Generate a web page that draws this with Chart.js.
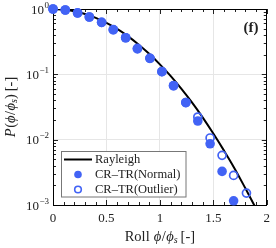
<!DOCTYPE html>
<html><head><meta charset="utf-8">
<script src="https://cdn.jsdelivr.net/npm/chart.js@4"></script>
<style>html,body{margin:0;padding:0;background:#fff;}#wrap{width:276px;height:248px;position:relative;}</style>
</head><body><div id="wrap"><canvas id="c" width="276" height="248"></canvas></div>
<script>
// ---- data ----
const rollBins   = [0, 0.115, 0.23, 0.34, 0.455, 0.564, 0.68, 0.79, 0.907, 1.019, 1.128, 1.243, 1.355, 1.47, 1.582, 1.69, 1.81];
const normalP    = [1, 0.965, 0.87, 0.754, 0.625, 0.482, 0.363, 0.25, 0.176, 0.11, 0.067, 0.037, 0.0193, 0.00865, 0.00327, 0.00116, null];
const outlierP   = [1, 0.965, 0.87, 0.754, 0.625, 0.482, 0.363, 0.245, 0.176, 0.11, 0.067, 0.037, 0.0222, 0.0106, 0.00575, 0.00284, 0.00152];
const rayleighX  = [0, 0.1, 0.2, 0.3, 0.4, 0.5, 0.6, 0.7, 0.8, 0.9, 1.0, 1.1, 1.2, 1.3, 1.4, 1.5, 1.6, 1.7, 1.8, 1.9];
const rayleighP  = [1, 0.981, 0.925, 0.839, 0.732, 0.614, 0.496, 0.385, 0.287, 0.206, 0.142, 0.0945, 0.0603, 0.0371, 0.0219, 0.0124, 0.0068, 0.0036, 0.0018, 0.00088];
const xTicks      = [0, 0.5, 1, 1.5, 2];
const xTickLabels = ['0', '0.5', '1', '1.5', '2'];
const yTicks      = [1e-3, 1e-2, 1e-1, 1];
const yTickBase   = '10';
const yTickExps   = ['\u22123', '\u22122', '\u22121', '0'];
const seriesNames = ['Rayleigh', 'CR\u2013TR(Normal)', 'CR\u2013TR(Outlier)'];
const panelLabel = '(f)';

const SERIF = "'Liberation Serif','DejaVu Serif',serif";
const BLUE = 'rgb(66,99,245)';

function pts(xs, ys){ const o=[]; xs.forEach((x,i)=>{ if(ys[i]!=null) o.push({x:x,y:ys[i]}); }); return o; }

function drawPieces(ctx, pieces, x, y){
  let w = 0;
  pieces.forEach(p=>{ ctx.font=(p.it?'italic ':'')+p.size+'px '+SERIF; p.w=ctx.measureText(p.t).width+(p.sp||0); w+=p.w; });
  let cx = x - w/2;
  ctx.textAlign='left'; ctx.textBaseline='alphabetic';
  pieces.forEach(p=>{ ctx.font=(p.it?'italic ':'')+p.size+'px '+SERIF; ctx.fillText(p.t, cx, y+(p.dy||0)); cx+=p.w; });
}

const decor = {
  id:'decor',
  beforeDatasetsDraw(chart){
    const ctx=chart.ctx, a=chart.chartArea, xs=chart.scales.x, ys=chart.scales.y;
    ctx.save();
    ctx.strokeStyle='#222'; ctx.lineWidth=1;
    ctx.beginPath();
    for(let i=0;i<=20;i++){
      const v=i/10, px=Math.round(xs.getPixelForValue(v))+0.5, L=(i%5===0)?5:3;
      ctx.moveTo(px,a.bottom); ctx.lineTo(px,a.bottom-L);
      ctx.moveTo(px,a.top); ctx.lineTo(px,a.top+L);
    }
    for(let e=-3;e<=0;e++){
      for(let m=1;m<=9;m++){
        const v=m*Math.pow(10,e); if(v>1) break;
        const py=Math.round(ys.getPixelForValue(v))+0.5, L=(m===1)?5:3;
        ctx.moveTo(a.left,py); ctx.lineTo(a.left+L,py);
        ctx.moveTo(a.right,py); ctx.lineTo(a.right-L,py);
      }
    }
    ctx.stroke();
    ctx.strokeStyle='#000'; ctx.lineWidth=1;
    ctx.strokeRect(Math.round(a.left)+0.5, Math.round(a.top)+0.5, Math.round(a.right-a.left)-1, Math.round(a.bottom-a.top));
    // y tick labels: 10 with superscript exponent
    ctx.fillStyle='#222'; ctx.textBaseline='alphabetic'; ctx.textAlign='left';
    yTicks.forEach((v,i)=>{
      const py=ys.getPixelForValue(v);
      ctx.font='9px '+SERIF; const ew=ctx.measureText(yTickExps[i]).width;
      ctx.font='13px '+SERIF; const bw=ctx.measureText(yTickBase).width;
      const right=a.left-4, x0=right-ew-bw-0.5;
      ctx.fillText(yTickBase, x0, py+4.5);
      ctx.font='9px '+SERIF; ctx.fillText(yTickExps[i], x0+bw+0.5, py-1.5);
    });
    ctx.restore();
  },
  afterDraw(chart){
    const ctx=chart.ctx, a=chart.chartArea;
    ctx.save();
    ctx.fillStyle='#222';
    drawPieces(ctx,[
      {t:'Roll',size:14.5,sp:4},{t:'\u03D5',it:true,size:14.5,sp:0.5},{t:'/',size:14.5,sp:0.5},{t:'\u03D5',it:true,size:14.5},{t:'s',it:true,size:10,dy:2,sp:3},{t:'[-]',size:14.5}
    ], (a.left+a.right)/2, 241);
    ctx.save();
    ctx.translate(15, (a.top+a.bottom)/2);
    ctx.rotate(-Math.PI/2);
    drawPieces(ctx,[
      {t:'P',it:true,size:14.5,sp:0.5},{t:'(',size:14.5},{t:'\u03D5',it:true,size:14.5,sp:0.5},{t:'/',size:14.5,sp:0.5},{t:'\u03D5',it:true,size:14.5},{t:'s',it:true,size:10,dy:2},{t:')',size:14.5,sp:3},{t:'[-]',size:14.5}
    ], 0, 0);
    ctx.restore();
    ctx.font='bold 15px '+SERIF; ctx.textAlign='center'; ctx.textBaseline='middle';
    ctx.fillText(panelLabel, 251, 28);
    // legend
    const lx=61.5, ly=151.5, lw=124.5, lh=45.5;
    ctx.fillStyle='#fff'; ctx.fillRect(lx,ly,lw,lh);
    ctx.strokeStyle='#777'; ctx.lineWidth=1; ctx.strokeRect(lx,ly,lw,lh);
    const rows=[159.5,174.5,189.5];
    ctx.strokeStyle='#000'; ctx.lineWidth=2;
    ctx.beginPath(); ctx.moveTo(64,rows[0]); ctx.lineTo(92,rows[0]); ctx.stroke();
    ctx.fillStyle=BLUE; ctx.beginPath(); ctx.arc(78,rows[1],3.8,0,Math.PI*2); ctx.fill();
    ctx.strokeStyle=BLUE; ctx.lineWidth=1.6; ctx.beginPath(); ctx.arc(78,rows[2],3.3,0,Math.PI*2); ctx.stroke();
    ctx.fillStyle='#222'; ctx.font='12.5px '+SERIF; ctx.textAlign='left'; ctx.textBaseline='middle';
    seriesNames.forEach((n,i)=>ctx.fillText(n,95,rows[i]+0.5));
    ctx.restore();
  }
};

new Chart(document.getElementById('c'), {
  type:'scatter',
  data:{ datasets:[
    { label:seriesNames[0], type:'line', data:pts(rayleighX,rayleighP), borderColor:'#000', borderWidth:2, pointRadius:0, tension:0.4, fill:false, order:3 },
    { label:seriesNames[1], data:pts(rollBins,normalP), pointRadius:4.8, pointBorderWidth:0, pointBackgroundColor:BLUE, pointBorderColor:BLUE, showLine:false, clip:false, order:2 },
    { label:seriesNames[2], data:pts(rollBins,outlierP), pointRadius:4.0, pointBorderWidth:1.7, pointBackgroundColor:'rgba(0,0,0,0)', pointBorderColor:BLUE, showLine:false, clip:false, order:1 }
  ]},
  options:{
    responsive:false, animation:false, devicePixelRatio:1,
    layout:{ padding:{ top:9, right:9, left:0, bottom:0 } },
    plugins:{ legend:{display:false}, tooltip:{enabled:false} },
    scales:{
      x:{ type:'linear', min:0, max:2,
        afterBuildTicks:s=>{ s.ticks=xTicks.map(v=>({value:v})); },
        afterFit:s=>{ s.height=43; },
        ticks:{ font:{family:SERIF,size:13}, color:'#222', padding:6, maxRotation:0, autoSkip:false,
          callback:(v)=>{ const i=xTicks.indexOf(v); return i>=0?xTickLabels[i]:''; } },
        grid:{ color:'#e6e6e6', drawTicks:false, lineWidth:1 },
        border:{ display:false }
      },
      y:{ type:'logarithmic', min:1e-3, max:1,
        afterBuildTicks:s=>{ s.ticks=yTicks.map(v=>({value:v})); },
        afterFit:s=>{ s.width=53; },
        ticks:{ display:false },
        grid:{ color:'#e6e6e6', drawTicks:false, lineWidth:1 },
        border:{ display:false }
      }
    }
  },
  plugins:[decor]
});
</script></body></html>
